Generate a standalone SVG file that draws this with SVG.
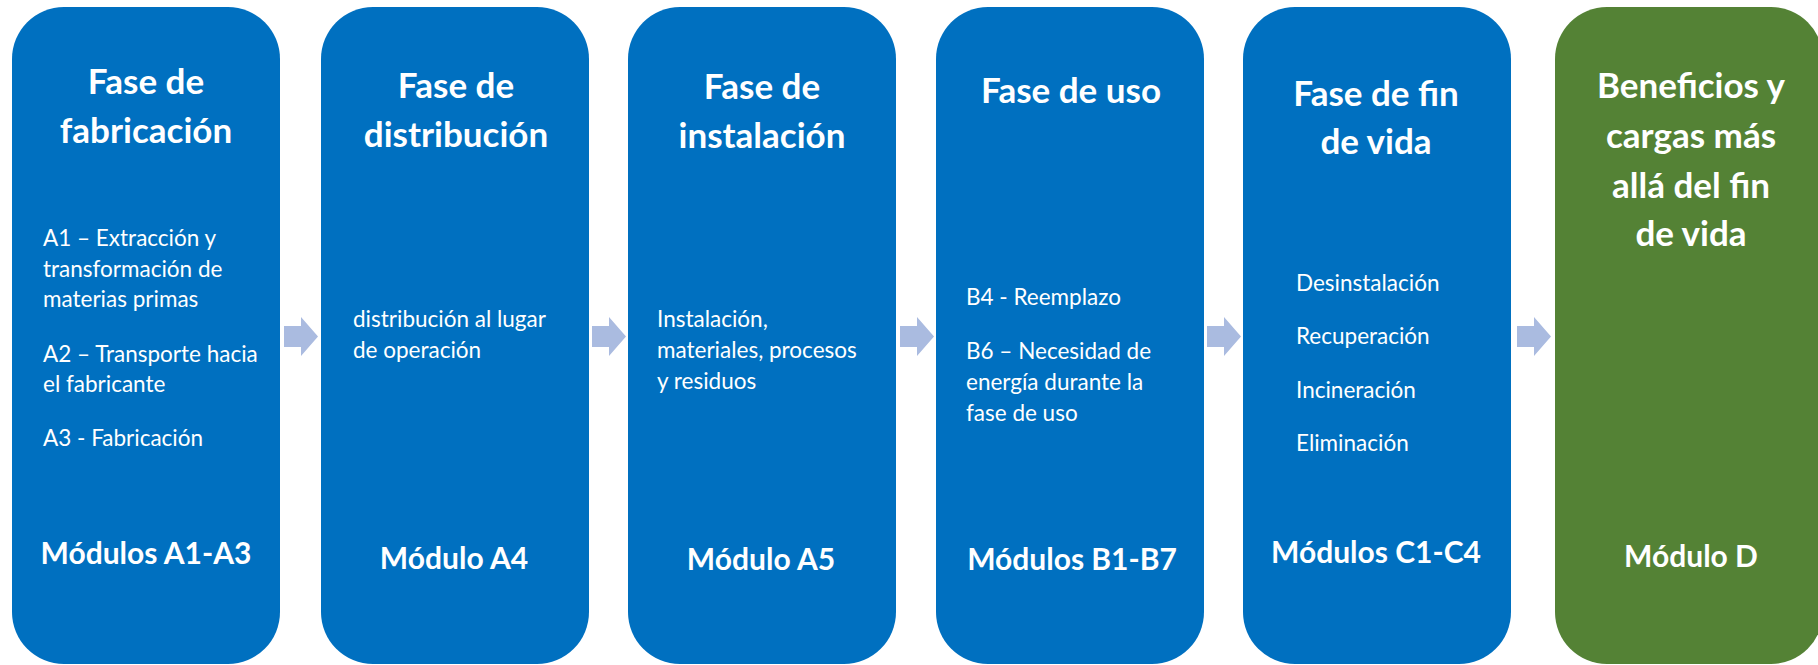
<svg xmlns="http://www.w3.org/2000/svg" xmlns:xlink="http://www.w3.org/1999/xlink" width="1818" height="665" viewBox="0 0 1818 665">
<defs>
<style>
.box{fill:#0070C0;}
.green{fill:#548235;}
.title{font-family:Lato,"Liberation Sans",sans-serif;font-weight:bold;font-size:35px;fill:#fff;text-anchor:middle;}
.mod{font-family:Lato,"Liberation Sans",sans-serif;font-weight:bold;font-size:30px;fill:#fff;text-anchor:middle;}
.body{font-family:Lato,"Liberation Sans",sans-serif;font-size:22.5px;fill:#fff;}
.arrow{fill:#AABBE0;}
</style>
<path id="arr" d="M0,326 H17 V317 L34,336.5 L17,356 V347 H0 Z"/>
</defs>
<rect width="1818" height="665" fill="#fff"/>
<g id="connectors">
<use xlink:href="#arr" class="arrow" x="284"/>
<use xlink:href="#arr" class="arrow" x="592"/>
<use xlink:href="#arr" class="arrow" x="900"/>
<use xlink:href="#arr" class="arrow" x="1207"/>
<use xlink:href="#arr" class="arrow" x="1517"/>
</g>
<g id="fabricacion">
<rect class="box" x="12" y="7" width="268" height="657" rx="52"/>
<text class="title" x="146" y="94">Fase de</text>
<text class="title" x="146" y="143">fabricación</text>
<text class="body" x="43" y="246">A1 – Extracción y</text>
<text class="body" x="43" y="277">transformación de</text>
<text class="body" x="43" y="307">materias primas</text>
<text class="body" x="43" y="362">A2 – Transporte hacia</text>
<text class="body" x="43" y="392">el fabricante</text>
<text class="body" x="43" y="446">A3 - Fabricación</text>
<text class="mod" x="146" y="564">Módulos A1-A3</text>
</g>
<g id="distribucion">
<rect class="box" x="321" y="7" width="268" height="657" rx="52"/>
<text class="title" x="456" y="98">Fase de</text>
<text class="title" x="456" y="147">distribución</text>
<text class="body" x="353" y="327">distribución al lugar</text>
<text class="body" x="353" y="358">de operación</text>
<text class="mod" x="454" y="569">Módulo A4</text>
</g>
<g id="instalacion">
<rect class="box" x="628" y="7" width="268" height="657" rx="52"/>
<text class="title" x="762" y="99">Fase de</text>
<text class="title" x="762" y="148">instalación</text>
<text class="body" x="657" y="327">Instalación,</text>
<text class="body" x="657" y="358">materiales, procesos</text>
<text class="body" x="657" y="389">y residuos</text>
<text class="mod" x="761" y="570">Módulo A5</text>
</g>
<g id="uso">
<rect class="box" x="936" y="7" width="268" height="657" rx="52"/>
<text class="title" x="1071" y="103">Fase de uso</text>
<text class="body" x="966" y="305">B4 - Reemplazo</text>
<text class="body" x="966" y="359">B6 – Necesidad de</text>
<text class="body" x="966" y="390">energía durante la</text>
<text class="body" x="966" y="421">fase de uso</text>
<text class="mod" x="1072" y="570">Módulos B1-B7</text>
</g>
<g id="fin-de-vida">
<rect class="box" x="1243" y="7" width="268" height="657" rx="52"/>
<text class="title" x="1376" y="106">Fase de fin</text>
<text class="title" x="1376" y="154">de vida</text>
<text class="body" x="1296" y="291">Desinstalación</text>
<text class="body" x="1296" y="344">Recuperación</text>
<text class="body" x="1296" y="398">Incineración</text>
<text class="body" x="1296" y="451">Eliminación</text>
<text class="mod" x="1376" y="563">Módulos C1-C4</text>
</g>
<g id="modulo-d">
<rect class="green" x="1555" y="7" width="268" height="657" rx="52"/>
<text class="title" x="1691" y="98">Beneficios y</text>
<text class="title" x="1691" y="148">cargas más</text>
<text class="title" x="1691" y="198">allá del fin</text>
<text class="title" x="1691" y="246">de vida</text>
<text class="mod" x="1691" y="567">Módulo D</text>
</g>
</svg>
